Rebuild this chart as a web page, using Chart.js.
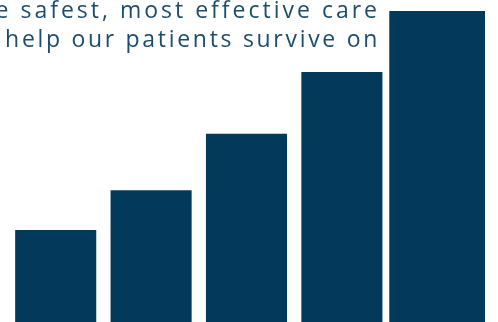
<!DOCTYPE html>
<html lang="en">
<head>
    <meta charset="UTF-8">
    <title>Patient Care Growth</title>
    <script src="https://cdn.jsdelivr.net/npm/chart.js"></script>
    <style>
        html, body {
            margin: 0;
            padding: 0;
            background: #ffffff;
            overflow: hidden;
        }
        .wrap {
            position: relative;
            width: 498px;
            height: 322px;
        }
        .blurb {
            position: absolute;
            right: 118px;
            top: -5px;
            white-space: nowrap;
            text-align: right;
            font-family: "Open Sans", sans-serif;
            font-size: 23px;
            line-height: 29px;
            letter-spacing: 3px;
            color: #1b4d6e;
            z-index: 2;
        }
        .blurb .tight {
            letter-spacing: 2.7px;
        }
        canvas {
            position: absolute;
            left: 0;
            top: 0;
        }
    </style>
</head>
<body>
    <div class="wrap">
        <div class="blurb">
            the safest, most effective care<br>
            <span class="tight">to help our patients survive on</span>
        </div>
        <canvas id="growthChart" width="498" height="322"></canvas>
    </div>

    <script>
        // Five stages, values in relative units
        const stages = ['1', '2', '3', '4', '5'];
        const values = [29.6, 42.4, 60.5, 80.4, 100];

        // the final stage is drawn as a wider bar
        const last = values.length - 1;
        const earlier = values.map((v, i) => i < last ? v : null);
        const latest = values.map((v, i) => i === last ? v : null);

        const ctx = document.getElementById('growthChart').getContext('2d');
        new Chart(ctx, {
            type: 'bar',
            data: {
                labels: stages,
                datasets: [{
                    data: earlier,
                    backgroundColor: '#033a5b',
                    borderWidth: 0,
                    grouped: false,
                    barPercentage: 0.85,
                    categoryPercentage: 1
                }, {
                    data: latest,
                    backgroundColor: '#033a5b',
                    borderWidth: 0,
                    grouped: false,
                    barPercentage: 1,
                    categoryPercentage: 1
                }]
            },
            options: {
                responsive: false,
                animation: false,
                layout: {
                    padding: { left: 8, right: 13, top: 11, bottom: 0 }
                },
                plugins: {
                    legend: { display: false },
                    tooltip: { enabled: false }
                },
                scales: {
                    x: { display: false },
                    y: { display: false, min: 0, max: 100 }
                }
            }
        });
    </script>
</body>
</html>
